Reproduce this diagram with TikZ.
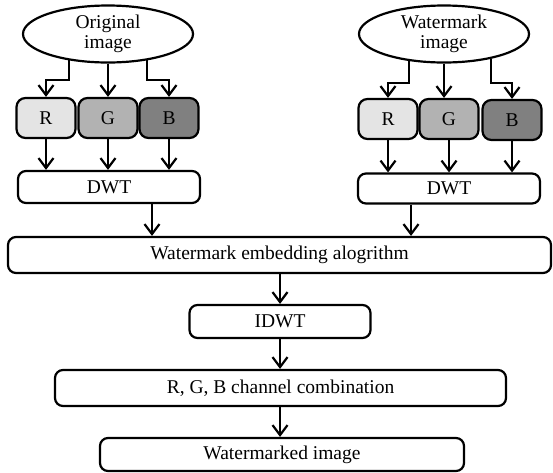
\documentclass[tikz,border=0pt]{standalone}
\usepackage{fontspec}
\setmainfont{Liberation Serif}
\usetikzlibrary{positioning,arrows.meta,shapes.geometric}
\definecolor{chanr}{RGB}{228,228,228}
\definecolor{chang}{RGB}{178,178,178}
\definecolor{chanb}{RGB}{128,128,128}

\begin{document}
\begin{tikzpicture}[x=1pt,y=-1pt,line width=2.2pt,
  every node/.style={font=\fontsize{19.5}{20}\selectfont,inner sep=0pt},
  src/.style={ellipse,draw,fill=white,align=center,minimum width=170pt,minimum height=57pt},
  chan/.style={draw,rounded corners=9pt,minimum width=59pt,minimum height=40pt},
  box/.style={draw,rounded corners=8pt,minimum height=33pt},
  arr/.style={-{Straight Barb[length=10pt,width=15pt]}}]
\useasboundingbox (0,0) rectangle (553,472);
\node[src] (orig) at (108,34) {Original\\image};
\node[src] (wm) at (444,34) {Watermark\\image};
\node[chan,fill=chanr] (r1) at (46,118) {R};
\node[chan,fill=chang] (g1) at (108,118) {G};
\node[chan,fill=chanb] (b1) at (169,118) {B};
\node[chan,fill=chanr] (r2) at (388,119) {R};
\node[chan,fill=chang] (g2) at (449,119) {G};
\node[chan,fill=chanb] (b2) at (512,120) {B};
\node[box,minimum width=182pt,minimum height=32pt] (dwt1) at (109,187) {DWT};
\node[box,minimum width=182pt,minimum height=30pt] (dwt2) at (449,188.5) {DWT};
\node[box,minimum width=543pt,minimum height=36pt] (embed) at (279.5,255) {Watermark embedding alogrithm};
\node[box,minimum width=181pt] (idwt) at (280,321.5) {IDWT};
\node[box,minimum width=451pt,minimum height=36pt] (combo) at (280.5,388) {R, G, B channel combination};
\node[box,minimum width=364pt] (marked) at (282,454.5) {Watermarked image};
\draw[arr] (orig.214) -- ++(0,20) -| (r1.north); \draw[arr] (orig) -- (g1); \draw[arr] (orig.326) -- ++(0,20) -| (b1.north);
\draw[arr] (wm.218) -- ++(0,22) -| (r2.north); \draw[arr] (wm) -- (wm |- g2.north); \draw[arr] (wm.332) -- ++(0,24) -| (b2.north);
\draw[arr] (r1) -- (r1 |- dwt1.north); \draw[arr] (g1) -- (g1 |- dwt1.north); \draw[arr] (b1) -- (b1 |- dwt1.north);
\draw[arr] (r2) -- (r2 |- dwt2.north); \draw[arr] (g2) -- (g2 |- dwt2.north); \draw[arr] (b2) -- (b2 |- dwt2.north);
\draw[arr] ([xshift=43pt]dwt1.south) -- ([xshift=43pt]dwt1.south |- embed.north);
\draw[arr] ([xshift=-38pt]dwt2.south) -- ([xshift=-38pt]dwt2.south |- embed.north);
\draw[arr] (idwt |- embed.south) -- (idwt); \draw[arr] (idwt) -- (idwt |- combo.north); \draw[arr] (idwt |- combo.south) -- (idwt |- marked.north);
\end{tikzpicture}
\end{document}
